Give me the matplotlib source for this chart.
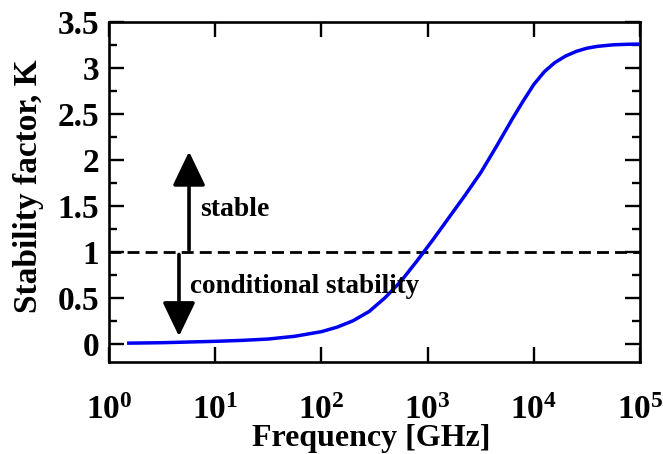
import numpy as np
import matplotlib
matplotlib.use("Agg")
import matplotlib.pyplot as plt
from matplotlib.ticker import MultipleLocator, FuncFormatter, LogLocator

# Stability factor K versus frequency (log10 of frequency in GHz)
log_freq = [0.17, 0.5, 1.0, 1.25, 1.5, 1.75, 2.0, 2.15, 2.3, 2.45, 2.6, 2.75,
            2.9, 3.05, 3.2, 3.35, 3.5, 3.65, 3.8, 3.9, 4.0, 4.1, 4.2, 4.3,
            4.4, 4.5, 4.6, 4.75, 4.9, 5.0]
k_factor = [0.005, 0.01, 0.025, 0.035, 0.05, 0.08, 0.13, 0.18, 0.25, 0.35, 0.5, 0.68,
            0.9, 1.13, 1.37, 1.61, 1.86, 2.15, 2.45, 2.64, 2.82, 2.96, 3.06, 3.13,
            3.18, 3.215, 3.235, 3.252, 3.258, 3.26]
k_threshold = 1.0
y_ticks = [0, 0.5, 1, 1.5, 2, 2.5, 3, 3.5]
x_decades = [0, 1, 2, 3, 4, 5]

freq = 10 ** np.array(log_freq)

plt.rcParams["font.family"] = "Liberation Serif"
plt.rcParams["font.weight"] = "bold"
plt.rcParams["mathtext.fontset"] = "custom"
plt.rcParams["mathtext.rm"] = "Liberation Serif:bold"
plt.rcParams["mathtext.bf"] = "Liberation Serif:bold"

fig = plt.figure(figsize=(6.63, 4.54), dpi=100)
ax = fig.add_axes([109 / 663, 92 / 454, 531 / 663, 340 / 454])

ax.plot(freq, k_factor, color="#0000f0", lw=2.5, solid_capstyle="butt", zorder=3)
ax.axhline(k_threshold, color="black", lw=2.0, dashes=(4.3, 2.2), zorder=2)

ax.set_xscale("log")
ax.set_xlim(10 ** x_decades[0], 10 ** x_decades[-1])
ax.set_ylim(-0.2, 3.5)

ax.set_xticks([10 ** d for d in x_decades])
ax.xaxis.set_major_formatter(FuncFormatter(lambda v, p: r"$\mathbf{10^{%d}}$" % round(np.log10(v))))
ax.xaxis.set_minor_locator(LogLocator(base=10, subs=np.arange(2, 10)))
ax.xaxis.set_minor_formatter(FuncFormatter(lambda v, p: ""))
ax.set_yticks(y_ticks)
ax.yaxis.set_major_formatter(FuncFormatter(lambda v, p: "%g" % v))
ax.yaxis.set_minor_locator(MultipleLocator(0.25))

for s in ax.spines.values():
    s.set_linewidth(1.9)

ax.tick_params(which="both", direction="in", top=True, right=True, width=1.7)
ax.tick_params(which="major", length=11)
ax.tick_params(which="minor", length=5.5)
ax.tick_params(axis="x", which="major", labelsize=24, pad=24)
ax.tick_params(axis="y", which="major", labelsize=24, pad=7)

ax.set_xlabel("Frequency [GHz]", fontsize=23, fontweight="bold", va="center")
ax.xaxis.set_label_coords(0.493, -0.225)
ax.set_ylabel("Stability factor, K", fontsize=24, fontweight="bold", va="center")
ax.yaxis.set_label_coords(-0.152, 0.518)

# Region arrows above and below the K = 1 boundary
arrow_kw = dict(arrowstyle="-|>,head_length=1.5,head_width=0.72", color="black", lw=2.6,
                shrinkA=0, shrinkB=0, mutation_scale=14)
ax.annotate("", xy=(5.67, 2.09), xytext=(5.67, 1.02), arrowprops=arrow_kw)
ax.annotate("", xy=(4.56, 0.08), xytext=(4.56, 0.97), arrowprops=arrow_kw)

ax.text(10 ** 0.857, 1.46, "stable", fontsize=20, fontweight="bold", va="center", ha="left")
ax.text(10 ** 0.763, 0.62, "conditional stability", fontsize=19.5, fontweight="bold",
        va="center", ha="left")

fig.savefig("out.png", dpi=100)
